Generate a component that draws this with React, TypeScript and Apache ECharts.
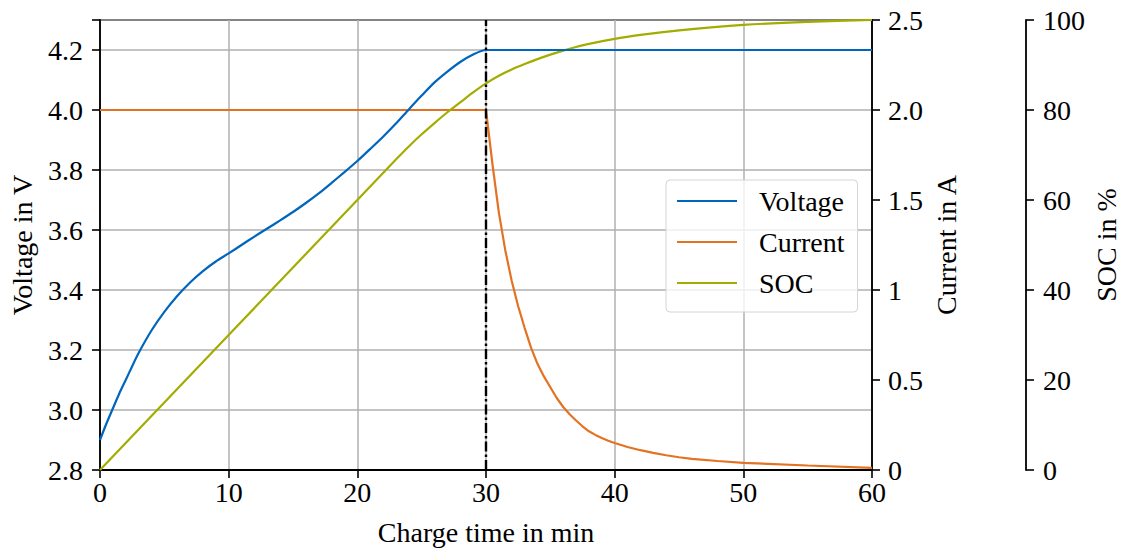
import React, { useEffect, useRef } from 'react';
import * as echarts from 'echarts';

// Charge time in min
const timeVoltage = [0, 0.5, 1, 1.5, 2, 2.5, 3, 4, 5, 6, 7, 8, 9, 10, 11, 12, 13, 14, 15, 16, 17, 18, 19, 20, 21, 22, 23, 24, 25, 26, 27, 28, 29, 30, 60];
const voltage = [2.9, 2.955, 3.005, 3.055, 3.1, 3.146, 3.19, 3.265, 3.327, 3.38, 3.425, 3.463, 3.495, 3.522, 3.55, 3.578, 3.605, 3.632, 3.66, 3.69, 3.722, 3.757, 3.793, 3.83, 3.87, 3.911, 3.955, 4.002, 4.048, 4.092, 4.128, 4.16, 4.185, 4.2, 4.2];

const timeCurrent = [0, 30, 30.5, 31, 31.5, 32, 32.5, 33, 33.5, 34, 34.5, 35, 35.5, 36, 36.5, 37, 37.5, 38, 38.5, 39, 39.5, 40, 41, 42, 43, 44, 45, 46, 48, 50, 55, 60];
const current = [2.0, 2.0, 1.7, 1.43, 1.22, 1.05, 0.91, 0.79, 0.68, 0.59, 0.52, 0.46, 0.4, 0.35, 0.31, 0.275, 0.243, 0.215, 0.195, 0.178, 0.163, 0.15, 0.128, 0.11, 0.095, 0.082, 0.071, 0.062, 0.05, 0.04, 0.025, 0.012];

const timeSoc = [0, 5, 10, 15, 20, 21, 22, 23, 24, 25, 26, 27, 28, 29, 30, 31, 32, 33, 34, 35, 36, 37, 38, 40, 42, 45, 50, 55, 60];
const soc = [0, 15, 30, 45, 60, 63, 66, 69, 71.9, 74.6, 77.1, 79.5, 81.7, 83.9, 85.9, 87.6, 89.0, 90.2, 91.3, 92.3, 93.2, 94.0, 94.7, 95.8, 96.7, 97.7, 98.9, 99.6, 100];

const cvStartTime = 30;
const seriesNames = ['Voltage', 'Current', 'SOC'];
const seriesColors = ['#0065BD', '#E37222', '#A2AD00'];

const FONT = 'Liberation Serif';
const FS = 28;

const zip = (xs: number[], ys: number[]) => xs.map((x, i) => [x, ys[i]]);

export default function App() {
  const ref = useRef<HTMLDivElement>(null);
  useEffect(() => {
    const chart = echarts.init(ref.current!, null, { renderer: 'svg' });
    const axisCommon = {
      axisLine: { show: true, lineStyle: { color: '#000', width: 1.8 } },
      axisTick: { show: true, inside: false, length: 8, lineStyle: { color: '#000', width: 1.6 } },
      nameTextStyle: { fontFamily: FONT, fontSize: FS, color: '#000' },
      nameLocation: 'middle' as const,
      nameMoveOverlap: false,
    };
    chart.setOption({
      animation: false,
      backgroundColor: '#fff',
      textStyle: { fontFamily: FONT },
      grid: {
        left: 100, right: 250, top: 20, bottom: 78,
        outerBoundsMode: 'none',
        containLabel: false,
        show: true, borderColor: '#000', borderWidth: 1.8, backgroundColor: 'transparent',
      },
      legend: {
        data: seriesNames,
        orient: 'vertical',
        left: 666,
        top: 180,
        icon: 'rect',
        itemWidth: 60,
        itemHeight: 2,
        itemGap: 13,
        padding: [7, 13, 15, 11],
        backgroundColor: 'rgba(255,255,255,0.8)',
        borderColor: '#d4d4d4',
        borderWidth: 1,
        borderRadius: 4,
        textStyle: { fontFamily: FONT, fontSize: FS, color: '#000', padding: [0, 0, 0, 17] },
      },
      xAxis: {
        ...axisCommon,
        type: 'value',
        min: 0,
        max: 60,
        interval: 10,
        name: 'Charge time in min',
        nameGap: 48,
        axisLabel: { fontFamily: FONT, fontSize: FS, color: '#000', margin: 8 },
        splitLine: { show: true, lineStyle: { color: '#b0b0b0', width: 1.5 } },
      },
      yAxis: [
        {
          ...axisCommon,
          type: 'value',
          position: 'left',
          min: 2.8,
          max: 4.3,
          interval: 0.2,
          name: 'Voltage in V',
          nameRotate: 90,
          nameGap: 64,
          axisLabel: {
            fontFamily: FONT, fontSize: FS, color: '#000', margin: 17,
            formatter: (v: number) => (v > 4.25 ? '' : v.toFixed(1)),
          },
          splitLine: { show: true, lineStyle: { color: '#b0b0b0', width: 1.5 } },
        },
        {
          ...axisCommon,
          type: 'value',
          position: 'right',
          min: 0,
          max: 2.5,
          interval: 0.5,
          name: 'Current in A',
          nameRotate: 90,
          nameGap: 60,
          axisLabel: {
            fontFamily: FONT, fontSize: FS, color: '#000', margin: 16,
            formatter: (v: number) => (v === 0 || v === 1 ? String(v) : v.toFixed(1)),
          },
          splitLine: { show: false },
        },
        {
          ...axisCommon,
          type: 'value',
          position: 'right',
          offset: 154,
          min: 0,
          max: 100,
          interval: 20,
          name: 'SOC in %',
          nameRotate: 90,
          nameGap: 66,
          axisLabel: { fontFamily: FONT, fontSize: FS, color: '#000', margin: 17 },
          splitLine: { show: false },
        },
      ],
      series: [
        {
          name: seriesNames[0],
          type: 'line',
          yAxisIndex: 0,
          data: zip(timeVoltage, voltage),
          symbol: 'none',
          smooth: 0.25,
          lineStyle: { color: seriesColors[0], width: 2.2 },
          itemStyle: { color: seriesColors[0] },
          z: 3,
          markLine: {
            silent: true,
            symbol: ['none', 'none'],
            label: { show: false },
            lineStyle: { color: '#000', width: 2.4, type: [10, 3, 2.5, 3] },
            data: [{ xAxis: cvStartTime }],
          },
        },
        {
          name: seriesNames[1],
          type: 'line',
          yAxisIndex: 1,
          data: zip(timeCurrent, current),
          symbol: 'none',
          lineStyle: { color: seriesColors[1], width: 2.2 },
          itemStyle: { color: seriesColors[1] },
          z: 2,
        },
        {
          name: seriesNames[2],
          type: 'line',
          yAxisIndex: 2,
          data: zip(timeSoc, soc),
          symbol: 'none',
          smooth: 0.25,
          lineStyle: { color: seriesColors[2], width: 2.2 },
          itemStyle: { color: seriesColors[2] },
          z: 2,
        },
      ],
    });
    return () => chart.dispose();
  }, []);
  return <div ref={ref} style={{ position: 'fixed', left: 0, top: 0, width: 1122, height: 548 }} />;
}
